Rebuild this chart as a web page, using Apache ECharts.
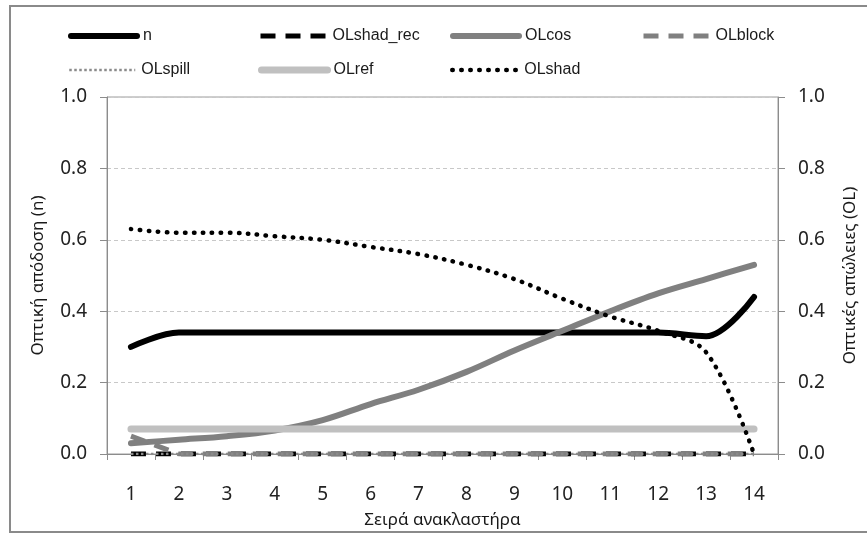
<!DOCTYPE html>
<html>
<head>
<meta charset="utf-8">
<script src="https://cdn.jsdelivr.net/npm/echarts@6/dist/echarts.min.js"></script>
<style>
  html, body { margin: 0; padding: 0; background: #fff; }
  #chart { width: 867px; height: 534px; }
</style>
</head>
<body>
<div id="chart"></div>
<script>
// Reflector rows (x axis)
const rows = ['1', '2', '3', '4', '5', '6', '7', '8', '9', '10', '11', '12', '13', '14'];

// Optical efficiency (left axis)
const n = [0.30, 0.34, 0.34, 0.34, 0.34, 0.34, 0.34, 0.34, 0.34, 0.34, 0.34, 0.34, 0.33, 0.44];

// Optical losses (right axis)
const OLshad_rec = [0, 0, 0, 0, 0, 0, 0, 0, 0, 0, 0, 0, 0, 0];
const OLcos = [0.03, 0.04, 0.05, 0.066, 0.095, 0.14, 0.18, 0.23, 0.29, 0.345, 0.40, 0.45, 0.49, 0.53];
const OLblock = [0.05, 0, 0, 0, 0, 0, 0, 0, 0, 0, 0, 0, 0, 0];
const OLspill = [0, 0, 0, 0, 0, 0, 0, 0, 0, 0, 0, 0, 0, 0];
const OLref = [0.07, 0.07, 0.07, 0.07, 0.07, 0.07, 0.07, 0.07, 0.07, 0.07, 0.07, 0.07, 0.07, 0.07];
const OLshad = [0.63, 0.62, 0.62, 0.61, 0.60, 0.58, 0.56, 0.53, 0.49, 0.435, 0.385, 0.345, 0.285, 0.0];

const yTicks = [0, 0.2, 0.4, 0.6, 0.8, 1.0];

const FONT = '"Noto Sans", "DejaVu Sans", sans-serif';
const LEG_FONT = '"Liberation Sans Narrow", "Liberation Sans", sans-serif';
const AXIS_GRAY = '#8c8c8c';

const chart = echarts.init(document.getElementById('chart'), null, { renderer: 'canvas' });

// One legend block per entry so the entries sit in fixed columns
function legendAt(name, left, top) {
  return {
    data: [{ name: name, itemStyle: { opacity: 0 } }],
    left: left,
    top: top,
    itemWidth: 66,
    itemHeight: 10,
    itemGap: 0,
    padding: 0,
    itemStyle: { opacity: 0 },
    lineStyle: { width: 'inherit', type: 'inherit', cap: 'inherit', color: 'inherit' },
    textStyle: { fontFamily: LEG_FONT, fontSize: 16, color: '#1a1a1a', padding: [0, 0, 0, 1] }
  };
}

function yAxisDef(name, position, gap) {
  return {
    type: 'value',
    position: position,
    min: yTicks[0],
    max: yTicks[yTicks.length - 1],
    interval: 0.2,
    name: name,
    nameLocation: 'middle',
    nameGap: gap,
    nameTextStyle: { fontFamily: FONT, fontSize: 17, color: '#1a1a1a' },
    axisLine: { show: true, lineStyle: { color: AXIS_GRAY, width: 1 } },
    axisTick: { show: true, length: 7, lineStyle: { color: AXIS_GRAY } },
    axisLabel: {
      fontFamily: FONT, fontSize: 19, color: '#222', margin: 20,
      formatter: v => v.toFixed(1)
    },
    splitLine: {
      show: position === 'left',
      lineStyle: { color: '#c8c8c8', type: [4, 3], width: 1 }
    }
  };
}

chart.setOption({
  animation: false,
  backgroundColor: '#fff',
  grid: {
    left: 107, right: 85, top: 97, bottom: 73,
    show: true, borderColor: '#9c9c9c', borderWidth: 1, backgroundColor: 'transparent'
  },
  legend: [
    legendAt('n', 68, 28),
    legendAt('OLshad_rec', 258, 28),
    legendAt('OLcos', 450, 28),
    legendAt('OLblock', 641, 28),
    legendAt('OLspill', 68, 62),
    legendAt('OLref', 258, 62),
    legendAt('OLshad', 450, 62)
  ],
  xAxis: {
    type: 'category',
    data: rows,
    boundaryGap: true,
    name: 'Σειρά ανακλαστήρα',
    nameLocation: 'middle',
    nameGap: 58,
    nameTextStyle: { fontFamily: FONT, fontSize: 17, color: '#1a1a1a' },
    axisLine: { lineStyle: { color: AXIS_GRAY, width: 1 } },
    axisTick: { show: true, length: 6, lineStyle: { color: AXIS_GRAY } },
    axisLabel: { fontFamily: FONT, fontSize: 19, color: '#222', margin: 31 },
    splitLine: { show: false }
  },
  yAxis: [
    yAxisDef('Οπτική απόδοση (n)', 'left', 60),
    yAxisDef('Οπτικές απώλειες (OL)', 'right', 64)
  ],
  series: [
    {
      name: 'n', type: 'line', yAxisIndex: 0, data: n,
      smooth: 0.35, symbol: 'none', color: '#000',
      lineStyle: { color: '#000', width: 6, cap: 'round' }
    },
    {
      name: 'OLshad_rec', type: 'line', yAxisIndex: 1, data: OLshad_rec,
      symbol: 'none', color: '#000',
      lineStyle: { color: '#000', width: 5, type: [15, 10] }
    },
    {
      name: 'OLcos', type: 'line', yAxisIndex: 1, data: OLcos,
      smooth: 0.35, symbol: 'none', color: '#808080',
      lineStyle: { color: '#808080', width: 6, cap: 'round' }
    },
    {
      name: 'OLblock', type: 'line', yAxisIndex: 1, data: OLblock,
      symbol: 'none', color: '#808080',
      lineStyle: { color: '#808080', width: 5, type: [15, 10] }
    },
    {
      name: 'OLspill', type: 'line', yAxisIndex: 1, data: OLspill,
      symbol: 'none', color: '#8a8a8a',
      lineStyle: { color: '#8a8a8a', width: 2.5, type: [2.5, 2.5] }
    },
    {
      name: 'OLref', type: 'line', yAxisIndex: 1, data: OLref,
      symbol: 'none', color: '#c0c0c0',
      lineStyle: { color: '#c0c0c0', width: 7, cap: 'round' }
    },
    {
      name: 'OLshad', type: 'line', yAxisIndex: 1, data: OLshad,
      smooth: 0.35, symbol: 'none', color: '#000',
      lineStyle: { color: '#000', width: 4.5, type: [0.5, 8.5], cap: 'round' }
    }
  ],
  graphic: [
    {
      type: 'rect',
      shape: { x: 10, y: 6, width: 880, height: 526 },
      style: { fill: 'none', stroke: '#8a8a8a', lineWidth: 2 },
      silent: true, z: 100
    }
  ]
});
</script>
</body>
</html>
